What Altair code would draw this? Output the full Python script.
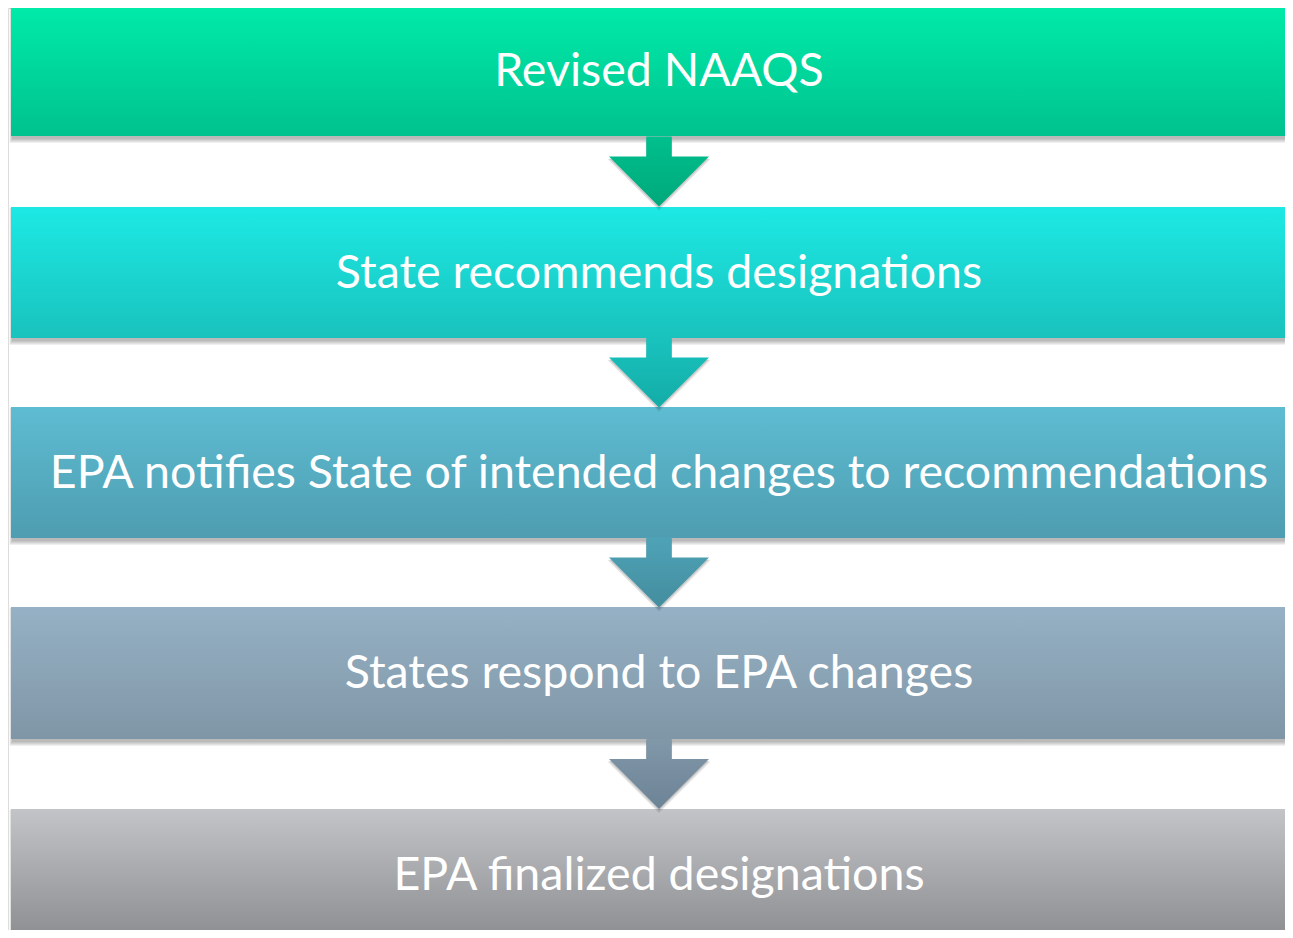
import altair as alt
import pandas as pd

# ---- content ----
steps = [
    "Revised NAAQS",
    "State recommends designations",
    "EPA notifies State of intended changes to recommendations",
    "States respond to EPA changes",
    "EPA finalized designations",
]
# ---- layout (page pixel coordinates) ----
box_top = [5, 207, 407, 607, 809]
box_bottom = [136, 338, 538, 739, 940]
box_left = 11
box_right = 1300
center_x = 659
# ---- colours ----
fill_top = ["#00EBA9", "#1DE9E4", "#5EBCD2", "#96B1C5", "#C3C4C8"]
fill_bottom = ["#00C28F", "#19C2BD", "#4E9DB0", "#7F96A6", "#8C8D90"]
arrow_top = ["#00C08D", "#19C3BE", "#4FA3B7", "#8198A9"]
arrow_bottom = ["#00A87B", "#14ACA7", "#438D9E", "#6D8396"]

boxes = pd.DataFrame({
    "i": list(range(len(steps))),
    "label": steps,
    "x1": [box_left] * len(steps),
    "x2": [box_right] * len(steps),
    "y1": box_top,
    "y2": box_bottom,
    "xc": [center_x] * len(steps),
    "yc": [(a + b) / 2 + 1 for a, b in zip(box_top, box_bottom)],
})

arrows = pd.DataFrame({
    "i": list(range(len(steps) - 1)),
    "x": [center_x] * (len(steps) - 1),
    "y": [(box_bottom[k] + box_top[k + 1]) / 2 for k in range(len(steps) - 1)],
})

# soft shadow rects around each box
shadow_rows = []
for k in range(1, 6):
    for b in range(len(steps)):
        shadow_rows.append({
            "x1": box_left + 1.5 - k * 0.6, "x2": box_right,
            "y1": box_top[b] + 3 - k * 0.5, "y2": box_bottom[b] + 2 + k,
        })
shadows = pd.DataFrame(shadow_rows)

# page is 1293x938 with 8px margin: plot area spans page pixels 8..1285, 8..930
W, H = 1277, 922
xs = alt.Scale(domain=[8, 8 + W])
ys = alt.Scale(domain=[8, 8 + H], reverse=True)

ARROW_PATH = "M-0.255,-0.7 L0.255,-0.7 L0.255,-0.3 L1,-0.3 L0,0.7 L-1,-0.3 L-0.255,-0.3 Z"


def grad(c0, c1):
    return alt.Gradient(
        gradient="linear",
        stops=[alt.GradientStop(color=c0, offset=0), alt.GradientStop(color=c1, offset=1)],
        x1=0, x2=0, y1=0, y2=1,
    )


layers = []

# box shadows
layers.append(
    alt.Chart(shadows).mark_rect(fill="black", opacity=0.06, clip=True).encode(
        x=alt.X("x1:Q", scale=xs, axis=None), x2="x2:Q",
        y=alt.Y("y1:Q", scale=ys, axis=None), y2="y2:Q",
    )
)

# boxes with gradient
for b in range(len(steps)):
    layers.append(
        alt.Chart(boxes).transform_filter(alt.datum.i == b)
        .mark_rect(fill=grad(fill_top[b], fill_bottom[b]), clip=True)
        .encode(
            x=alt.X("x1:Q", scale=xs, axis=None), x2="x2:Q",
            y=alt.Y("y1:Q", scale=ys, axis=None), y2="y2:Q",
        )
    )

# arrow shadows
for dy, grow, op in [(3, 1.03, 0.10), (2, 1.0, 0.12)]:
    layers.append(
        alt.Chart(arrows).transform_calculate(ys_="datum.y + %f" % dy)
        .mark_point(shape=ARROW_PATH, size=10000 * grow * grow, filled=True,
                    fill="black", opacity=op, strokeWidth=0, clip=True)
        .encode(
            x=alt.X("x:Q", scale=xs, axis=None),
            y=alt.Y("ys_:Q", scale=ys, axis=None),
        )
    )

# arrows with gradient
for a in range(len(steps) - 1):
    layers.append(
        alt.Chart(arrows).transform_filter(alt.datum.i == a)
        .mark_point(shape=ARROW_PATH, size=10000, filled=True,
                    fill=grad(arrow_top[a], arrow_bottom[a]), opacity=1,
                    strokeWidth=0, clip=True)
        .encode(
            x=alt.X("x:Q", scale=xs, axis=None),
            y=alt.Y("y:Q", scale=ys, axis=None),
        )
    )

# labels
layers.append(
    alt.Chart(boxes).mark_text(
        font="Lato", fontSize=46.5, color="white", align="center", baseline="middle"
    ).encode(
        x=alt.X("xc:Q", scale=xs, axis=None),
        y=alt.Y("yc:Q", scale=ys, axis=None),
        text="label:N",
    )
)

chart = alt.layer(*layers).properties(
    width=W, height=H,
    autosize=alt.AutoSizeParams(type="none"),
    padding=0,
).configure_view(stroke=None).configure(background="white")

chart.save("out.html", embed_options={"renderer": "svg", "actions": False})
